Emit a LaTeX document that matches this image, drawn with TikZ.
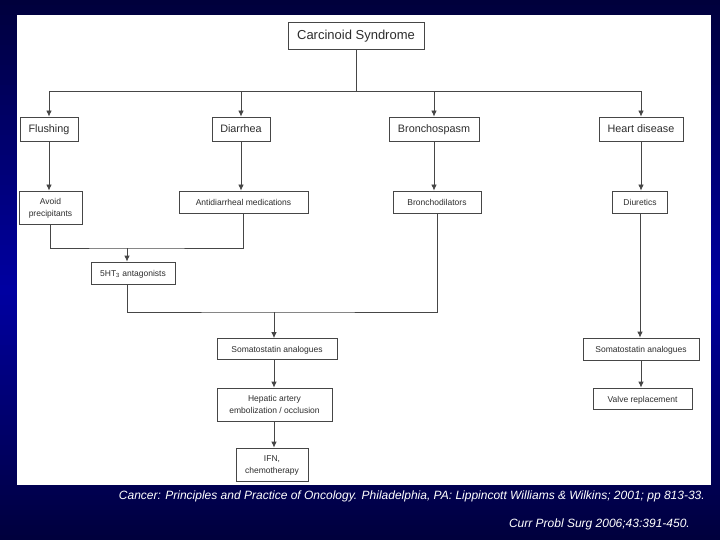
\documentclass[tikz,border=0pt]{standalone}
\usepackage{fontspec}
\setmainfont{Liberation Sans}
\usetikzlibrary{arrows.meta, positioning, calc}

\definecolor{navyedge}{RGB}{0,0,60}
\definecolor{navymid}{RGB}{0,0,162}
\definecolor{linegray}{RGB}{70,70,70}
\definecolor{textgray}{RGB}{45,45,45}

\tikzset{
  box/.style={draw=linegray, line width=0.8pt, fill=white, text=textgray, align=center, inner sep=0pt},
  topbox/.style={box, font=\fontsize{13}{15}\selectfont, text height=0.72em, text depth=0pt},
  groupbox/.style={box, font=\fontsize{10.8}{13}\selectfont, text height=0.72em, text depth=0pt},
  treatbox/.style={box, font=\fontsize{8.5}{12}\selectfont, text height=0.72em, text depth=0pt},
  twoline/.style={box, font=\fontsize{8.5}{12}\selectfont, text depth=0pt},
  link/.style={draw=linegray, line width=0.8pt},
  arr/.style={link, -{Latex[length=6pt,width=5.5pt]}},
  cite/.style={text=white, font=\fontsize{12}{14}\selectfont\itshape, anchor=east, inner sep=0pt}
}

\begin{document}
\begin{tikzpicture}[x=1pt, y=-1pt]
      \useasboundingbox (0,0) rectangle (720,540);
      % background, dark at top and bottom, brighter in the middle
      \foreach \i in {0,...,107} {
        \pgfmathsetmacro\yy{\i*5}
        \pgfmathtruncatemacro\p{100*(1-abs(\yy+2.5-290)/ifthenelse(\yy<290,290,250))}
        \fill[navymid!\p!navyedge] (0,\yy) rectangle (720,\yy+5.4);
      }
      \fill[white] (17,15) rectangle (711,485);

      % top
      \node[topbox, minimum width=136pt, minimum height=27pt] (cs) at (356,35.5) {Carcinoid Syndrome};

      % symptoms
      \node[groupbox, minimum width=58pt, minimum height=24pt] (fl) at (49,129) {Flushing};
      \node[groupbox, minimum width=58pt, minimum height=24pt] (di) at (241,129) {Diarrhea};
      \node[groupbox, minimum width=90pt, minimum height=24pt] (br) at (434,129) {Bronchospasm};
      \node[groupbox, minimum width=84pt, minimum height=24pt] (hd) at (641,129) {Heart disease};

      % first treatments
      \node[twoline, minimum width=63pt, minimum height=33pt] (ap) at (50.5,207.5) {Avoid\\precipitants};
      \node[treatbox, minimum width=129pt, minimum height=22pt] (ad) at (243.5,202) {Antidiarrheal medications};
      \node[treatbox, minimum width=88pt, minimum height=22pt] (bd) at (437,202) {Bronchodilators};
      \node[treatbox, minimum width=55pt, minimum height=22pt] (du) at (640,202) {Diuretics};

      \node[treatbox, minimum width=84pt, minimum height=22pt] (ht) at (133,273) {5HT\textsubscript{3} antagonists};

      % left column
      \node[treatbox, minimum width=120pt, minimum height=21pt] (sa) at (277,349) {Somatostatin analogues};
      \node[twoline, minimum width=115pt, minimum height=33pt] (ha) at (274.5,404.5) {Hepatic artery\\embolization / occlusion};
      \node[twoline, minimum width=72pt, minimum height=33pt] (ifn) at (272,464.5) {IFN,\\chemotherapy};

      % right column
      \node[treatbox, minimum width=116pt, minimum height=22pt] (sa2) at (641,349) {Somatostatin analogues};
      \node[treatbox, minimum width=99pt, minimum height=21pt] (vr) at (642.5,398.5) {Valve replacement};

      \coordinate (bus) at (356,91);
      \coordinate (j1) at (127,248);
      \coordinate (j2) at (274,312);

      \draw[link] (cs.south) -- (bus);
      \draw[arr] (bus) -| (fl.north);
      \draw[arr] (bus) -| (di.north);
      \draw[arr] (bus) -| (br.north);
      \draw[arr] (bus) -| (hd.north);

      \draw[arr] (fl.south) -- (fl.south |- ap.north);
      \draw[arr] (di.south) -- (di.south |- ad.north);
      \draw[arr] (br.south) -- (br.south |- bd.north);
      \draw[arr] (hd.south) -- (hd.south |- du.north);

      \draw[link] (ap.south) |- (j1) -| (ad.south);
      \draw[arr] (j1) -- (j1 |- ht.north);
      \draw[link] (j1 |- ht.south) |- (j2) -| (bd.south);
      \draw[arr] (j2) -- (j2 |- sa.north);
      \draw[arr] (j2 |- sa.south) -- (j2 |- ha.north);
      \draw[arr] (j2 |- ha.south) -- (j2 |- ifn.north);

      \draw[arr] (du.south) -- (du.south |- sa2.north);
      \draw[arr] (sa2.south) -- (sa2.south |- vr.north);

      % sources
      \node[cite] (src1) at (705,496) {Cancer: Principles and Practice of Oncology. Philadelphia, PA: Lippincott Williams \& Wilkins; 2001; pp 813-33.};
      \node[cite] (src2) at (690,524) {Curr Probl Surg 2006;43:391-450.};
    \end{tikzpicture}
\end{document}
